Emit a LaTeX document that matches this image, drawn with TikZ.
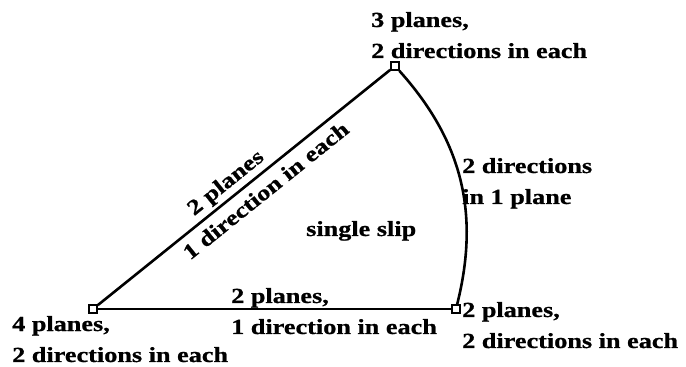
\documentclass[tikz,border=0pt]{standalone}
\usepackage{fontspec}
\setmainfont{Liberation Serif}[FakeStretch=1.22, BoldFeatures={FakeBold=0.8}]
\usepackage{tikz}
\usetikzlibrary{positioning}
\tikzset{
  pole/.style={rectangle, draw, fill=white, line width=1.6pt,
    minimum size=8pt, inner sep=0pt},
  edge/.style={line width=2.6pt},
  lbl/.style={inner sep=0pt, align=left, anchor=base west},
}

\begin{document}
\begin{tikzpicture}[x=1pt, y=1pt, font=\fontsize{21.5}{31}\selectfont\bfseries]
  \useasboundingbox (0,0) rectangle (686,367);

  \node[pole] (p4) at (93,58) {};
  \node[pole] (p2) at (456,58) {};
  \node[pole] (p3) at (395,301) {};

  \draw[edge] (p4) -- (p2);
  \draw[edge] (p4) -- (p3)
    node[pos=0.47, sloped, above, inner sep=3pt] {2 planes}
    node[pos=0.54, sloped, below, inner sep=7pt] {1 direction in each};
  \draw[edge] (p2) to[bend right=28] (p3);

  % corner labels
  \node[lbl] (t3) at (371,309) {3 planes,\\2 directions in each};
  \node[lbl] (t4) at (12,5) {4 planes,\\2 directions in each};
  \node[lbl] (t2) at (462,19) {2 planes,\\2 directions in each};

  % edge labels
  \node[lbl] (arc) at (462,163) {2 directions\\in 1 plane};
  \node[lbl] (bot) at (231,33) {2 planes,\\1 direction in each};
  \node[lbl] (mid) at (306,131) {single slip};
\end{tikzpicture}
\end{document}
